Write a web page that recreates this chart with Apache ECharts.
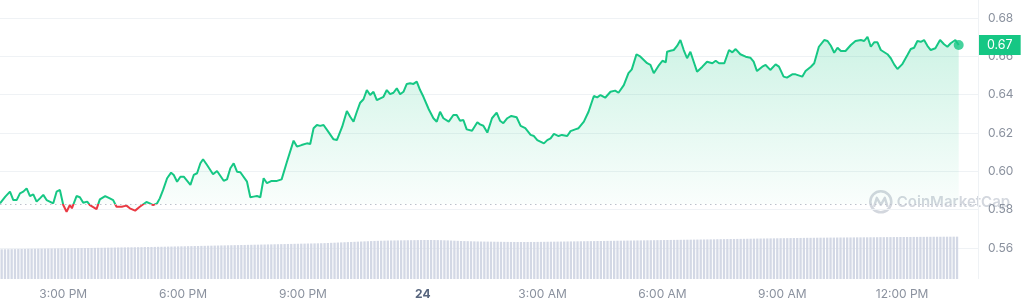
<!DOCTYPE html>
<html><head><meta charset="utf-8">
<script src="https://cdn.jsdelivr.net/npm/echarts@6/dist/echarts.min.js"></script>
<style>html,body{margin:0;padding:0;background:#fff;overflow:hidden}#c{width:1024px;height:307px}</style>
</head><body><div id="c"></div>
<script>
// time is in minutes since midnight of the 23rd
const START_MIN = 805;          // 1:25 PM
const X_MAX_MIN = 2274;
const priceMinutes = [0,8,15,20,25,30,35,40,45,50,55,60,65,70,80,85,90,95,100,105,108,115,120,125,131,135,145,150,158,165,170,175,183,190,195,203,210,220,225,230,236,240,245,251,257,261,266,271,276,286,291,296,301,305,311,320,326,336,341,346,351,356,361,371,376,381,386,391,396,401,408,416,423,431,441,446,453,461,466,471,476,481,486,493,501,506,514,521,526,531,536,541,546,551,556,561,566,576,581,586,591,596,601,606,611,616,621,626,631,636,644,651,656,661,666,674,681,686,691,696,701,709,717,721,726,732,739,746,751,756,762,768,776,782,789,797,802,807,817,822,827,832,839,844,852,857,864,869,877,884,892,897,902,909,917,924,929,937,944,949,956,962,972,977,982,989,995,1000,1002,1007,1012,1017,1022,1027,1032,1037,1042,1047,1055,1062,1070,1075,1080,1088,1095,1100,1105,1112,1120,1127,1132,1137,1145,1150,1157,1165,1170,1177,1182,1190,1195,1205,1210,1218,1223,1230,1238,1243,1248,1253,1258,1263,1270,1278,1285,1293,1298,1303,1308,1313,1318,1323,1333,1338,1343,1348,1355,1363,1368,1373,1378,1383,1388,1393,1398,1405,1412,1418,1423,1428,1435,1440];
const priceValues = [0.5833,0.5868,0.5894,0.5850,0.5850,0.5885,0.5894,0.5911,0.5871,0.5880,0.5842,0.5859,0.5877,0.5850,0.5833,0.5894,0.5903,0.5824,0.5789,0.5824,0.5807,0.5871,0.5865,0.5836,0.5842,0.5824,0.5803,0.5854,0.5871,0.5859,0.5850,0.5815,0.5815,0.5821,0.5807,0.5795,0.5815,0.5840,0.5833,0.5824,0.5833,0.5859,0.5903,0.5964,0.5993,0.5981,0.5946,0.5972,0.5972,0.5929,0.5981,0.5990,0.6042,0.6063,0.6033,0.5985,0.6002,0.5951,0.5958,0.6016,0.6042,0.5998,0.5995,0.5946,0.5865,0.5868,0.5871,0.5865,0.5964,0.5938,0.5950,0.5950,0.5958,0.6050,0.6160,0.6129,0.6137,0.6146,0.6143,0.6225,0.6242,0.6237,0.6242,0.6207,0.6167,0.6163,0.6233,0.6315,0.6285,0.6259,0.6311,0.6358,0.6376,0.6424,0.6398,0.6415,0.6372,0.6389,0.6424,0.6403,0.6410,0.6433,0.6402,0.6415,0.6456,0.6459,0.6456,0.6468,0.6424,0.6389,0.6324,0.6277,0.6259,0.6311,0.6277,0.6259,0.6294,0.6294,0.6264,0.6268,0.6219,0.6212,0.6256,0.6245,0.6238,0.6202,0.6277,0.6306,0.6264,0.6251,0.6277,0.6289,0.6282,0.6237,0.6225,0.6190,0.6184,0.6163,0.6146,0.6163,0.6172,0.6195,0.6184,0.6190,0.6184,0.6210,0.6219,0.6225,0.6259,0.6311,0.6393,0.6386,0.6398,0.6384,0.6415,0.6421,0.6410,0.6450,0.6512,0.6532,0.6611,0.6598,0.6564,0.6555,0.6512,0.6550,0.6577,0.6569,0.6624,0.6629,0.6633,0.6654,0.6685,0.6633,0.6590,0.6624,0.6572,0.6520,0.6546,0.6572,0.6564,0.6577,0.6564,0.6564,0.6633,0.6621,0.6638,0.6611,0.6598,0.6593,0.6572,0.6523,0.6546,0.6555,0.6529,0.6558,0.6546,0.6494,0.6489,0.6506,0.6506,0.6494,0.6523,0.6546,0.6564,0.6650,0.6685,0.6680,0.6655,0.6619,0.6645,0.6628,0.6628,0.6659,0.6680,0.6685,0.6680,0.6702,0.6650,0.6673,0.6673,0.6633,0.6611,0.6590,0.6558,0.6534,0.6558,0.6607,0.6638,0.6645,0.6680,0.6676,0.6685,0.6655,0.6633,0.6642,0.6685,0.6663,0.6650,0.6668,0.6685,0.6659];
const baselinePrice = 0.5830;
const volumeStepMin = 5;
const volumeValues = [
60.6,60.7,60.8,60.9,61.0,61.1,61.2,61.3,61.5,61.6,61.7,61.8,
61.9,62.0,62.1,62.2,62.3,62.4,62.5,62.6,62.7,62.8,62.9,63.0,
63.1,63.2,63.3,63.4,63.5,63.6,63.7,63.8,63.9,64.0,64.2,64.3,
64.4,64.5,64.6,64.7,64.8,64.9,65.0,65.2,65.3,65.4,65.5,65.7,
65.8,65.9,66.1,66.2,66.4,66.5,66.7,66.8,67.0,67.1,67.3,67.4,
67.6,67.7,67.9,68.0,68.2,68.3,68.5,68.6,68.8,68.9,69.1,69.2,
69.4,69.5,69.7,69.8,70.0,70.1,70.3,70.4,70.6,70.7,70.9,71.0,
71.2,71.3,71.5,71.6,71.8,71.9,72.1,72.2,72.4,72.5,72.7,72.8,
73.0,73.2,73.5,73.8,74.1,74.4,74.7,75.0,75.3,75.6,75.9,76.2,
76.5,76.8,77.1,77.4,77.7,77.9,78.1,78.3,78.5,78.6,78.7,78.8,
78.9,79.0,79.1,79.2,79.3,79.4,79.5,79.6,79.6,79.6,79.5,79.4,
79.2,79.0,78.8,78.5,78.2,77.9,77.6,77.4,77.2,77.0,76.8,76.6,
76.5,76.4,76.3,76.2,76.1,76.0,75.9,75.8,75.7,75.6,75.6,75.5,
75.5,75.5,75.5,75.6,75.6,75.7,75.8,75.9,76.0,76.1,76.2,76.3,
76.4,76.5,76.6,76.7,76.8,76.9,77.0,77.1,77.2,77.3,77.4,77.5,
77.6,77.7,77.8,77.9,78.0,78.1,78.2,78.3,78.4,78.5,78.6,78.7,
78.8,78.9,79.0,79.1,79.2,79.3,79.4,79.5,79.6,79.7,79.8,79.9,
80.0,80.1,80.2,80.3,80.4,80.5,80.6,80.7,80.8,80.9,81.0,81.2,
81.3,81.4,81.5,81.6,81.7,81.8,81.9,82.0,82.1,82.2,82.4,82.5,
82.6,82.7,82.8,82.9,83.0,83.1,83.2,83.3,83.4,83.5,83.6,83.7,
83.8,83.9,84.0,84.0,84.1,84.2,84.3,84.3,84.4,84.5,84.5,84.6,
84.7,84.7,84.8,84.8,84.9,85.0,85.0,85.1,85.1,85.2,85.2,85.3,
85.4,85.4,85.5,85.5,85.6,85.6,85.7,85.7,85.8,85.8,85.9,85.9,
86.0,86.0,86.1,86.1,86.2,86.2,86.2,86.3,86.3,86.3,86.4,86.4];
const priceAxis = {min: 0.56, max: 0.68, interval: 0.02};
const xTickValues = [900, 1080, 1260, 1440, 1620, 1800, 1980, 2160];
const xTickLabels = ['3:00 PM', '6:00 PM', '9:00 PM', '24', '3:00 AM', '6:00 AM', '9:00 AM', '12:00 PM'];

const GREEN = '#16c784', RED = '#ea3943', GREY = '#8a919e', FONT = 'Inter, "Noto Sans", sans-serif';
const priceData = priceMinutes.map((t, i) => [START_MIN + t, priceValues[i]]);
const volumeData = volumeValues.map((v, i) => [START_MIN + volumeStepMin * i + volumeStepMin / 2, v]);
const lastPoint = priceData[priceData.length - 1];

const xLabelFmt = v => {
  const i = xTickValues.indexOf(Math.round(v));
  if (i < 0) return '';
  return xTickLabels[i] === '24' ? '{b|24}' : xTickLabels[i];
};

const chart = echarts.init(document.getElementById('c'), null, {renderer: 'canvas'});
chart.setOption({
  animation: false,
  backgroundColor: '#fff',
  grid: [
    {left: 0, right: 46, top: 18, height: 230},
    {left: 0, right: 46, top: 230, bottom: 28}
  ],
  xAxis: [
    {gridIndex: 0, type: 'value', min: START_MIN, max: X_MAX_MIN, show: false},
    {gridIndex: 1, type: 'value', min: START_MIN, max: X_MAX_MIN,
     axisLine: {show: false}, axisTick: {show: false}, splitLine: {show: false},
     axisLabel: {customValues: xTickValues, formatter: xLabelFmt, color: GREY, fontSize: 12, fontFamily: FONT, margin: 9,
       rich: {b: {fontWeight: 'bold', color: '#58667e', fontSize: 12, fontFamily: FONT}}}}
  ],
  yAxis: [
    {gridIndex: 0, type: 'value', position: 'right', min: priceAxis.min, max: priceAxis.max, interval: priceAxis.interval,
     axisLine: {show: false}, axisTick: {show: false},
     splitLine: {lineStyle: {color: '#eff2f5', width: 1}},
     axisLabel: {formatter: v => v.toFixed(2), color: GREY, fontSize: 12, fontFamily: FONT, margin: 10}},
    {gridIndex: 1, type: 'value', min: 0, max: 100, show: false}
  ],
  visualMap: {
    show: false, type: 'piecewise', seriesIndex: 0, dimension: 1,
    pieces: [{gte: 0.5, lt: baselinePrice, color: RED}, {gte: baselinePrice, lte: 0.8, color: GREEN}]
  },
  series: [
    {
      type: 'line', xAxisIndex: 0, yAxisIndex: 0, data: priceData, showSymbol: false, z: 3, clip: false,
      lineStyle: {width: 2},
      areaStyle: {origin: baselinePrice, color: {type: 'linear', x: 0, y: 0, x2: 0, y2: 1,
        colorStops: [{offset: 0, color: 'rgba(22,199,132,0.30)'}, {offset: 1, color: 'rgba(22,199,132,0.02)'}]}},
      markLine: {
        silent: true, symbol: 'none', z: 20, precision: 6,
        data: [
          {yAxis: baselinePrice, lineStyle: {color: '#bcc1cb', type: [1.5, 3.5], width: 1.2}, label: {show: false}},
          {yAxis: lastPoint[1], lineStyle: {color: 'rgba(0,0,0,0)', width: 1}, label: {show: true, position: 'end', distance: 1,
            formatter: p => p.value.toFixed(2), color: '#fff', backgroundColor: GREEN, opacity: 1,
            padding: [4, 8, 3, 8], fontSize: 12.5, fontFamily: FONT}}
        ]
      }
    },
    {type: 'scatter', xAxisIndex: 0, yAxisIndex: 0, data: [lastPoint], symbolSize: 10, z: 5,
     itemStyle: {color: GREEN}},
    {type: 'bar', xAxisIndex: 1, yAxisIndex: 1, data: volumeData, barWidth: 2.3, z: 2,
     itemStyle: {color: '#d3d8e5'}}
  ],
  graphic: [
    {type: 'line', shape: {x1: 978.5, y1: 0, x2: 978.5, y2: 279}, style: {stroke: '#eff2f5', lineWidth: 1}, z: 1},
    {type: 'group', left: 869, top: 190, z: 10, silent: true, children: [
      {type: 'circle', shape: {cx: 12, cy: 12, r: 10.5}, style: {fill: '#fff', stroke: '#d3d7de', lineWidth: 2.6}},
      {type: 'polyline', shape: {points: [[5.5, 16], [8, 8], [12, 15], [16, 8], [18.5, 16]]},
       style: {fill: null, stroke: '#d3d7de', lineWidth: 2.4, lineJoin: 'round', lineCap: 'round'}},
      {type: 'text', x: 28, y: 12.5, style: {text: 'CoinMarketCap', fill: '#d3d7de', font: '600 15px ' + FONT, textVerticalAlign: 'middle'}}
    ]}
  ]
});
</script></body></html>
